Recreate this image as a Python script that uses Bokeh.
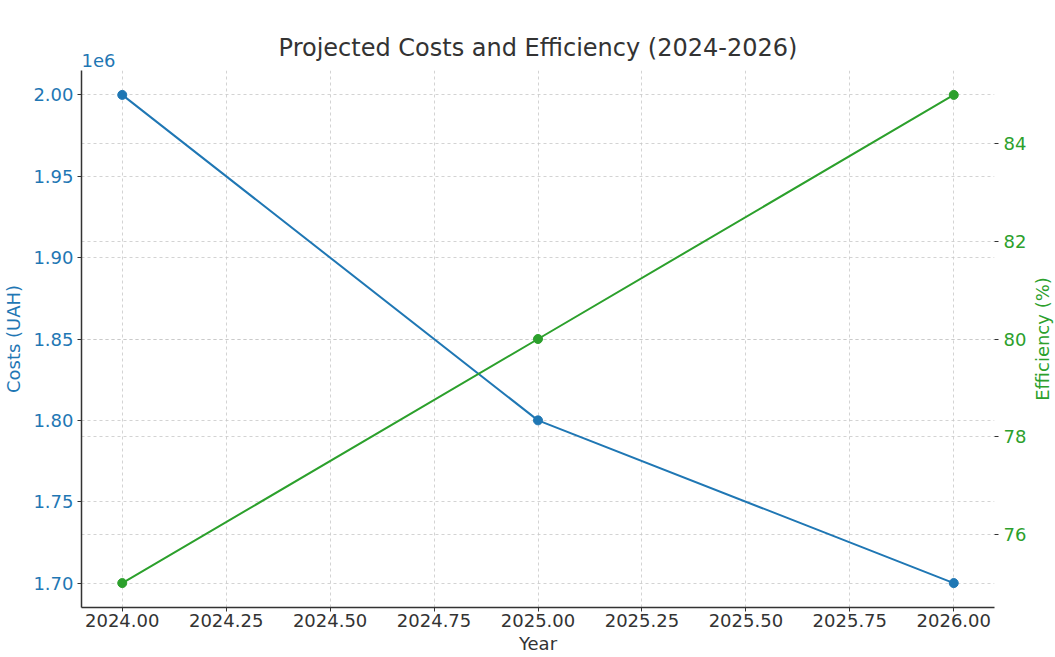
from bokeh.plotting import figure
from bokeh.layouts import row
from bokeh.models import (Range1d, LinearAxis, SingleIntervalTicker, NumeralTickFormatter,
                          CustomJSTickFormatter, Grid, Title)
from bokeh.embed import file_html
from bokeh.resources import INLINE

years = [2024, 2025, 2026]
costs = [2000000, 1800000, 1700000]
efficiency = [75, 80, 85]

BLUE = "#1f77b4"
GREEN = "#2ca02c"
DARK = "#333333"
FONT = "DejaVu Sans"
FS = "18px"
LH = 0.8
W_LABEL = 26

p = figure(width=1055 - W_LABEL, height=657, output_backend="svg", toolbar_location=None,
           x_range=Range1d(2023.902, 2026.098), y_range=Range1d(1685000, 2015000),
           min_border_left=60, min_border_right=10, min_border_top=70, min_border_bottom=20)
p.extra_y_ranges = {"eff": Range1d(74.5, 85.5)}

p.title.text = "Projected Costs and Efficiency (2024-2026)"
p.title.align = "center"
p.title.text_font = FONT
p.title.text_font_size = "24px"
p.title.text_font_style = "normal"
p.title.text_color = DARK
p.title.standoff = -27

p.add_layout(Title(text="1e6", align="left", text_font=FONT, text_font_size=FS,
                   text_font_style="normal", text_color=BLUE, standoff=7), "above")

p.outline_line_color = None
p.background_fill_color = "white"
p.border_fill_color = "white"


def style_axis(ax, label, color, tick_color):
    if label:
        ax.axis_label = label
    ax.axis_label_text_font = FONT
    ax.axis_label_text_font_size = FS
    ax.axis_label_text_font_style = "normal"
    ax.axis_label_text_color = color
    ax.axis_label_text_line_height = LH
    ax.major_label_text_font = FONT
    ax.major_label_text_font_size = FS
    ax.major_label_text_color = tick_color
    ax.major_label_text_line_height = LH
    ax.major_tick_line_color = DARK
    ax.major_tick_in = 0
    ax.major_tick_out = 4
    ax.minor_tick_line_color = None


# x axis
xa = p.xaxis[0]
xa.ticker = SingleIntervalTicker(interval=0.25, num_minor_ticks=0)
xa.formatter = NumeralTickFormatter(format="0.00")
style_axis(xa, "Year", DARK, DARK)
xa.axis_label_standoff = 3
xa.major_label_standoff = 2
xa.axis_line_color = DARK
xa.axis_line_width = 1.5

# left axis
ya = p.yaxis[0]
ya.ticker = SingleIntervalTicker(interval=50000, num_minor_ticks=0)
ya.formatter = CustomJSTickFormatter(code="return (tick/1e6).toFixed(2);")
style_axis(ya, "Costs (UAH)", BLUE, BLUE)
ya.axis_label_standoff = 6
ya.major_label_standoff = 4
ya.axis_line_color = DARK
ya.axis_line_width = 1.5

# right axis (its title is drawn in the narrow strip next to the plot)
ra = LinearAxis(y_range_name="eff",
                ticker=SingleIntervalTicker(interval=2, num_minor_ticks=0))
style_axis(ra, None, GREEN, GREEN)
ra.major_label_standoff = 5
ra.axis_line_color = None
p.add_layout(ra, "right")

# grids
for g in p.grid:
    g.grid_line_color = "#c8c8c8"
    g.grid_line_dash = "3 3"
    g.grid_line_width = 0.8
rg = Grid(dimension=1, y_range_name="eff", ticker=ra.ticker,
          grid_line_color="#c8c8c8", grid_line_dash="3 3", grid_line_width=0.8)
p.add_layout(rg)

# data
p.line(years, costs, line_color=BLUE, line_width=2)
p.scatter(years, costs, size=9, fill_color=BLUE, line_color=BLUE)
p.line(years, efficiency, line_color=GREEN, line_width=2, y_range_name="eff")
p.scatter(years, efficiency, size=9, fill_color=GREEN, line_color=GREEN, y_range_name="eff")

# narrow strip holding the right-hand axis title, reading bottom to top
p2 = figure(width=W_LABEL, height=657, output_backend="svg", toolbar_location=None,
            x_axis_type=None, y_axis_type=None, x_range=Range1d(0, 1), y_range=Range1d(0, 1),
            min_border_left=0, min_border_right=0, min_border_top=70, min_border_bottom=50)
p2.outline_line_color = None
p2.background_fill_color = "white"
p2.border_fill_color = "white"
p2.add_layout(Title(text="Efficiency (%)", align="center", text_font=FONT,
                    text_font_size=FS, text_font_style="normal", text_color=GREEN,
                    standoff=0), "left")

layout = row(p, p2, spacing=0)

open("out.html", "w").write(file_html(layout, INLINE))
